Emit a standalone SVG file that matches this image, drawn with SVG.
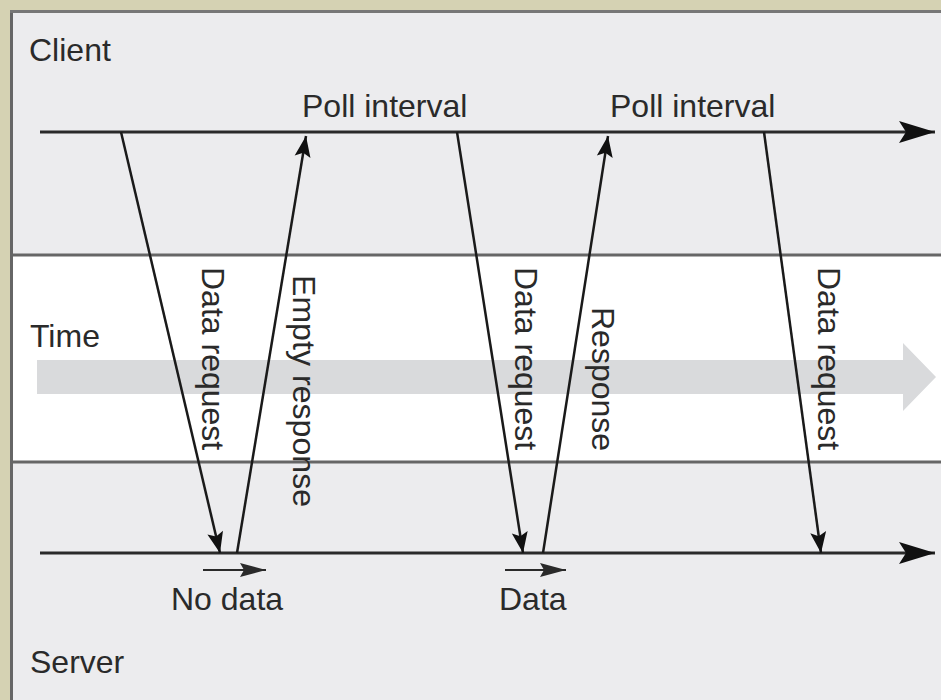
<svg xmlns="http://www.w3.org/2000/svg" width="941" height="700" viewBox="0 0 941 700">
  <defs>
    <style>
      .lbl { font-family: "Liberation Sans", Arial, sans-serif; font-size: 32px; fill: #2a2a2a; }
      .axis { stroke: #2a2a2a; stroke-width: 3; fill: none; }
      .msg { stroke: #1a1a1a; stroke-width: 2.5; fill: none; }
      .tiny { stroke: #2a2a2a; stroke-width: 2; fill: none; }
      .sep { stroke: #666; stroke-width: 3; }
    </style>
    <marker id="big" viewBox="-38 -12 40 24" refX="0" refY="0" markerWidth="40" markerHeight="24" markerUnits="userSpaceOnUse" orient="auto">
      <path d="M0,0 L-36,-11 L-29,0 L-36,11 Z" fill="#111"/>
    </marker>
    <marker id="ah" viewBox="-22 -10 24 20" refX="0" refY="0" markerWidth="24" markerHeight="20" markerUnits="userSpaceOnUse" orient="auto">
      <path d="M0,0 L-21,-8 L-17,0 L-21,8 Z" fill="#111"/>
    </marker>
    <marker id="sm" viewBox="-28 -9 30 18" refX="0" refY="0" markerWidth="30" markerHeight="18" markerUnits="userSpaceOnUse" orient="auto">
      <path d="M0,0 L-26,-7 L-22,0 L-26,7 Z" fill="#2a2a2a"/>
    </marker>
  </defs>

  <!-- background and panel -->
  <rect x="0" y="0" width="941" height="700" fill="#d5d2b3"/>
  <rect x="11" y="11" width="940" height="700" fill="#ececee"/>
  <rect x="12" y="255" width="929" height="207" fill="#ffffff"/>
  <line x1="11.5" y1="10" x2="11.5" y2="700" stroke="#666" stroke-width="3"/>
  <line x1="10" y1="11.5" x2="941" y2="11.5" stroke="#777" stroke-width="3"/>
  <line class="sep" x1="12" y1="255" x2="941" y2="255"/>
  <line class="sep" x1="12" y1="462" x2="941" y2="462"/>

  <!-- time arrow -->
  <g id="time">
    <path d="M37,360 L903,360 L903,343 L936,377 L903,411 L903,394 L37,394 Z" fill="#d9dadc"/>
    <text class="lbl" x="30" y="347">Time</text>
  </g>

  <g id="client">
    <text class="lbl" x="29" y="61">Client</text>
  </g>
  <g id="server">
    <text class="lbl" x="30" y="673">Server</text>
  </g>

  <g id="poll1"><text class="lbl" x="302" y="117">Poll interval</text></g>
  <g id="poll2"><text class="lbl" x="610" y="117">Poll interval</text></g>

  <g id="nodata">
    <line class="tiny" x1="203" y1="570" x2="266" y2="570" marker-end="url(#sm)"/>
    <text class="lbl" x="171" y="610">No data</text>
  </g>
  <g id="data">
    <line class="tiny" x1="505" y1="570" x2="566" y2="570" marker-end="url(#sm)"/>
    <text class="lbl" x="499" y="610">Data</text>
  </g>

  <!-- connectors -->
  <g id="connectors">
    <line class="axis" x1="40" y1="132" x2="935" y2="132" marker-end="url(#big)"/>
    <line class="axis" x1="40" y1="553" x2="935" y2="553" marker-end="url(#big)"/>
    <line class="msg" x1="121" y1="132" x2="220" y2="553" marker-end="url(#ah)"/>
    <line class="msg" x1="237" y1="553" x2="306" y2="136" marker-end="url(#ah)"/>
    <line class="msg" x1="457" y1="132" x2="523" y2="553" marker-end="url(#ah)"/>
    <line class="msg" x1="543" y1="553" x2="608" y2="136" marker-end="url(#ah)"/>
    <line class="msg" x1="764" y1="132" x2="821" y2="553" marker-end="url(#ah)"/>
  </g>

  <!-- connector labels -->
  <g id="labels">
    <text class="lbl" transform="translate(202,267) rotate(90)">Data request</text>
    <text class="lbl" transform="translate(293,275) rotate(90)" textLength="232">Empty response</text>
    <text class="lbl" transform="translate(515,267) rotate(90)">Data request</text>
    <text class="lbl" transform="translate(592,307) rotate(90)">Response</text>
    <text class="lbl" transform="translate(818,267) rotate(90)">Data request</text>
  </g>
</svg>
